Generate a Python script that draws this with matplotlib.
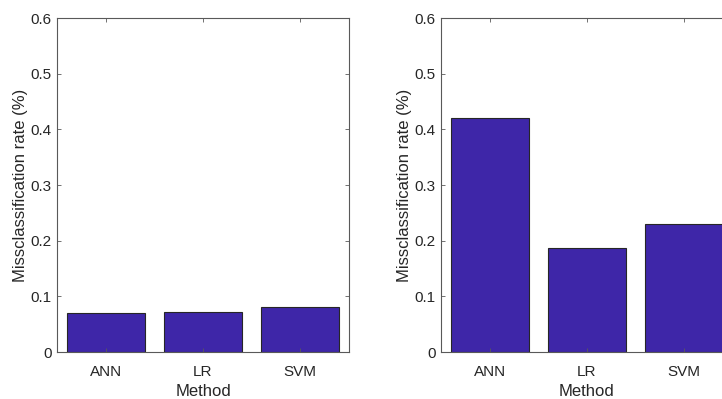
import matplotlib.pyplot as plt

plt.rcParams['font.family'] = ['Liberation Sans', 'DejaVu Sans']

methods = ['ANN', 'LR', 'SVM']
rate_left = [0.070, 0.071, 0.080]
rate_right = [0.420, 0.186, 0.230]

bar_color = (0.2422, 0.1504, 0.6603)
axis_color = (0.35, 0.35, 0.35)
text_color = (0.15, 0.15, 0.15)

fig = plt.figure(figsize=(7.22, 3.99), dpi=100)
W, H = 722, 399


def panel(left_px, vals):
    ax = fig.add_axes([left_px / W, (H - 352) / H, 292 / W, 334 / H])
    x = range(1, len(vals) + 1)
    ax.bar(x, vals, width=0.8, color=bar_color, edgecolor=text_color, linewidth=0.8)
    ax.set_xlim(0.5, 3.5)
    ax.set_ylim(0, 0.6)
    ax.set_xticks(list(x))
    ax.set_xticklabels(methods)
    ax.set_yticks([0, 0.1, 0.2, 0.3, 0.4, 0.5, 0.6])
    ax.set_yticklabels(['0', '0.1', '0.2', '0.3', '0.4', '0.5', '0.6'])
    ax.tick_params(direction='in', length=3, width=0.6, top=True, right=True,
                   labelsize=11, colors=axis_color, labelcolor=text_color)
    ax.tick_params(axis='x', pad=9)
    ax.tick_params(axis='y', pad=4)
    for s in ax.spines.values():
        s.set_color(axis_color)
        s.set_linewidth(0.8)
    ax.set_xlabel('Method', fontsize=12, color=text_color, labelpad=4)
    ax.set_ylabel('Missclassification rate (%)', fontsize=12, color=text_color, labelpad=2)
    return ax


panel(57, rate_left)
panel(441, rate_right)

fig.savefig('out.png', dpi=100)
